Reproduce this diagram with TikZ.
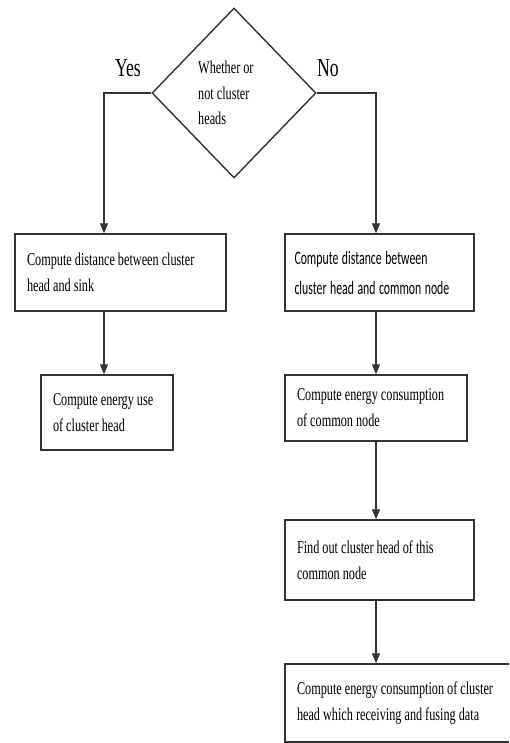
\documentclass[tikz,border=0pt]{standalone}
\usepackage{fontspec}
\setmainfont[FakeStretch=0.68]{Liberation Serif}
\newfontfamily\calfont[FakeStretch=0.62]{Carlito}
\usetikzlibrary{shapes.geometric,arrows.meta}
\definecolor{linec}{HTML}{333333}
\newcommand{\tsp}[1]{\spaceskip=#1\xspaceskip=#1\rightskip=0pt plus 1fil\relax}
\begin{document}
\begin{tikzpicture}[x=1pt,y=-1pt,
  box/.style={draw=linec, line width=1.5pt, rectangle, align=left, inner xsep=12pt, inner ysep=0pt, font=\fontsize{18}{26}\selectfont},
  arr/.style={draw=linec, line width=1.3pt, -{Triangle[length=10pt,width=8pt]}},
  lbl/.style={font=\fontsize{26}{30}\selectfont, inner sep=0pt}]
\useasboundingbox (0,0) rectangle (509,743);
\clip (0,0) rectangle (509,743);
\fill[white] (0,0) rectangle (509,743);
% decision
\node[diamond, draw=linec, line width=1.4pt, minimum width=164pt, minimum height=170pt, inner sep=0pt, aspect=0.965] (dec) at (234,93) {};
\node[align=left, anchor=west, inner sep=0pt, font={\fontsize{18}{25.5}\selectfont}] (dect) at (198,93) {\tsp{3pt}Whether or\\\tsp{3pt}not cluster\\heads};
\node[lbl] (yes) at (128,68) {Yes};
\node[lbl] (no) at (328,68) {No};
% boxes
\node[box, text width=187pt, minimum height=77pt] (b1) at (120.5,272.5) {\tsp{3pt}Compute distance between cluster\\head and sink};
\node[box, text width=108pt, minimum height=75pt] (b2) at (107,412.5) {\tsp{3pt}Compute energy use\\of cluster head};
\node[box, text width=170pt, inner xsep=9.5pt, minimum height=77pt, font={\calfont\fontsize{19}{30}\selectfont}] (b3) at (379.5,272.5) {\tsp{3.5pt}Compute distance between\\cluster head and common node};
\node[box, text width=158pt, minimum height=66pt] (b4) at (376,408) {\tsp{3pt}Compute energy consumption\\of common node};
\node[box, text width=165pt, minimum height=80pt] (b5) at (379.5,560) {\tsp{3pt}Find out cluster head of this\\common node};
\node[box, text width=216pt, minimum height=78pt] (b6) at (405,703) {\tsp{3pt}Compute energy consumption of cluster\\head which receiving and fusing data};
% connectors
\coordinate (yc) at (104,93);
\coordinate (nc) at (376,93);
\draw[arr] (dec.west) -- (yc) -- (b1.north -| yc);
\draw[arr] (dec.east) -- (nc) -- (b3.north -| nc);
\draw[arr] (b1.south -| yc) -- (b2.north -| yc);
\draw[arr] (b3.south -| nc) -- (b4.north -| nc);
\draw[arr] (b4.south -| nc) -- (b5.north -| nc);
\draw[arr] (b5.south -| nc) -- (b6.north -| nc);
\end{tikzpicture}
\end{document}
